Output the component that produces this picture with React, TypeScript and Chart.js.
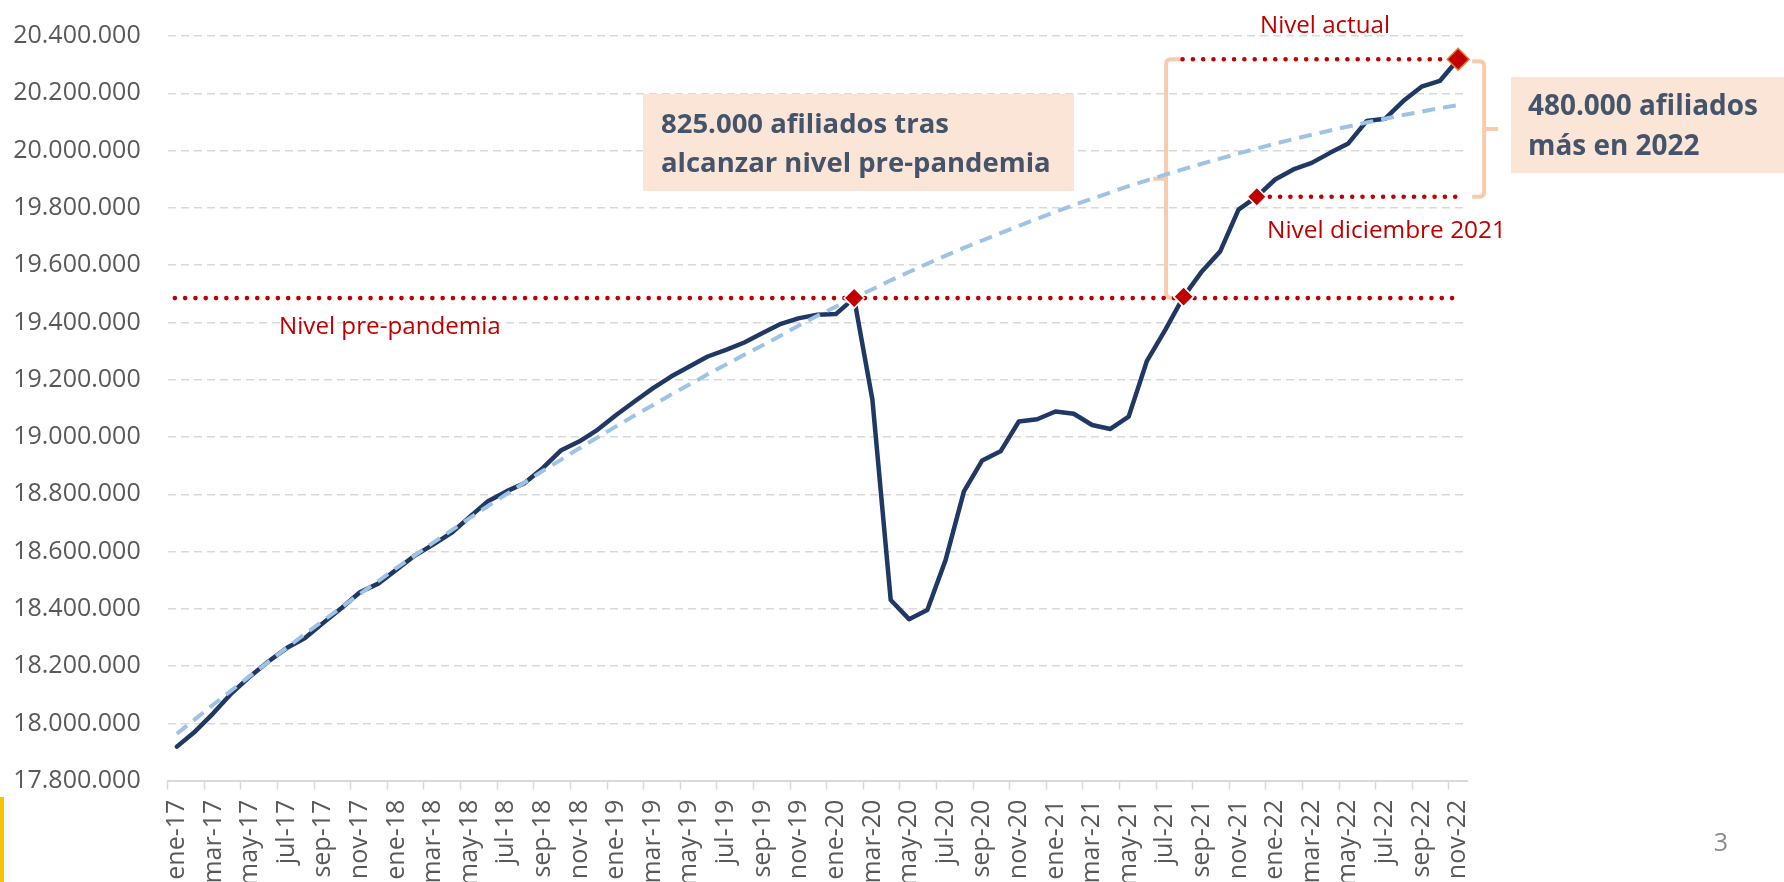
import React, { useEffect, useRef } from 'react';
import { Chart, registerables } from 'chart.js';

Chart.register(...registerables);

const categories = [
  'ene-17','feb-17','mar-17','abr-17','may-17','jun-17','jul-17','ago-17','sep-17','oct-17','nov-17','dic-17',
  'ene-18','feb-18','mar-18','abr-18','may-18','jun-18','jul-18','ago-18','sep-18','oct-18','nov-18','dic-18',
  'ene-19','feb-19','mar-19','abr-19','may-19','jun-19','jul-19','ago-19','sep-19','oct-19','nov-19','dic-19',
  'ene-20','feb-20','mar-20','abr-20','may-20','jun-20','jul-20','ago-20','sep-20','oct-20','nov-20','dic-20',
  'ene-21','feb-21','mar-21','abr-21','may-21','jun-21','jul-21','ago-21','sep-21','oct-21','nov-21','dic-21',
  'ene-22','feb-22','mar-22','abr-22','may-22','jun-22','jul-22','ago-22','sep-22','oct-22','nov-22',
];

const afiliados = [
  17919000, 17972000, 18036000, 18106000, 18164000, 18216000, 18263000, 18298000, 18351000, 18403000, 18458000, 18488000,
  18537000, 18586000, 18624000, 18665000, 18721000, 18776000, 18810000, 18839000, 18892000, 18954000, 18985000, 19026000,
  19077000, 19124000, 19170000, 19211000, 19246000, 19281000, 19304000, 19330000, 19363000, 19395000, 19415000, 19427000,
  19429000, 19485000, 19130000, 18431000, 18364000, 18396000, 18571000, 18810000, 18918000, 18950000, 19054000, 19062000,
  19089000, 19081000, 19042000, 19028000, 19071000, 19266000, 19374000, 19490000, 19578000, 19648000, 19794000, 19839000,
  19899000, 19934000, 19957000, 19992000, 20025000, 20103000, 20111000, 20173000, 20223000, 20243000, 20319000,
];

const tendencia = [
  17964000, 18015000, 18066000, 18116000, 18166000, 18215000, 18264000, 18312000, 18359000, 18406000, 18452000, 18497000,
  18543000, 18587000, 18631000, 18674000, 18717000, 18759000, 18800000, 18841000, 18882000, 18921000, 18961000, 18999000,
  19037000, 19075000, 19111000, 19148000, 19183000, 19219000, 19253000, 19287000, 19320000, 19354000, 19390000, 19423000,
  19455000, 19486000, 19516000, 19547000, 19576000, 19605000, 19633000, 19660000, 19686000, 19712000, 19737000, 19762000,
  19786000, 19810000, 19832000, 19854000, 19876000, 19896000, 19916000, 19935000, 19954000, 19972000, 19990000, 20007000,
  20024000, 20040000, 20055000, 20070000, 20084000, 20098000, 20111000, 20124000, 20136000, 20148000, 20159000,
];

const yMin = 17800000;
const yMax = 20400000;
const yStep = 200000;

const mesPrePandemia = 'feb-20';
const mesRecuperacion = 'ago-21';
const mesDiciembre = 'dic-21';
const mesActual = 'nov-22';
const hitos = [mesPrePandemia, mesRecuperacion, mesDiciembre, mesActual];

const textoCaja1 = ['825.000 afiliados tras', 'alcanzar nivel pre-pandemia'];
const textoCaja2 = ['480.000 afiliados', 'más en 2022'];
const etiquetaPre = 'Nivel pre-pandemia';
const etiquetaActual = 'Nivel actual';
const etiquetaDic = 'Nivel diciembre 2021';
const numeroPagina = '3';

const FONT = '"Open Sans", "Noto Sans", sans-serif';
const RED = '#C00000';
const PEACH = '#F8CBAD';
const BOXFILL = '#FBE5D6';
const BOXTEXT = '#44546A';

const fmt = (v: number) => String(Math.round(v)).replace(/\B(?=(\d{3})+(?!\d))/g, '.');

function fitSize(ctx: CanvasRenderingContext2D, text: string, weight: string, target: number) {
  const base = 28;
  ctx.font = `${weight} ${base}px ${FONT}`;
  const w = ctx.measureText(text).width;
  return (base * target) / w;
}

function dotted(ctx: CanvasRenderingContext2D, x1: number, x2: number, y: number) {
  ctx.save();
  ctx.strokeStyle = RED;
  ctx.lineWidth = 4.6;
  ctx.lineCap = 'round';
  ctx.setLineDash([0, 10.3]);
  ctx.beginPath();
  ctx.moveTo(x1, y);
  ctx.lineTo(x2, y);
  ctx.stroke();
  ctx.restore();
}

function brace(ctx: CanvasRenderingContext2D, x: number, yTop: number, yBot: number, hookDir: number, hook: number, nub: number) {
  const yMid = (yTop + yBot) / 2;
  const r = 5;
  ctx.save();
  ctx.strokeStyle = PEACH;
  ctx.lineWidth = 4;
  ctx.lineJoin = 'round';
  ctx.lineCap = 'butt';
  ctx.beginPath();
  ctx.moveTo(x + hookDir * hook, yTop);
  ctx.lineTo(x + hookDir * r, yTop);
  ctx.quadraticCurveTo(x, yTop, x, yTop + r);
  ctx.lineTo(x, yBot - r);
  ctx.quadraticCurveTo(x, yBot, x + hookDir * r, yBot);
  ctx.lineTo(x + hookDir * hook, yBot);
  ctx.moveTo(x, yMid);
  ctx.lineTo(x - hookDir * nub, yMid);
  ctx.stroke();
  ctx.restore();
}

const annotations = {
  id: 'annotations',
  beforeDatasetsDraw(chart: any) {
    const { ctx, scales } = chart;
    const x = scales.x;
    const y = scales.y;
    const iPre = categories.indexOf(mesPrePandemia);
    const iRec = categories.indexOf(mesRecuperacion);
    const iDic = categories.indexOf(mesDiciembre);
    const iAct = categories.indexOf(mesActual);
    const yPre = y.getPixelForValue(afiliados[iPre]);
    const yDic = y.getPixelForValue(afiliados[iDic]);
    const yAct = y.getPixelForValue(afiliados[iAct]);

    ctx.save();
    ctx.fillStyle = BOXFILL;
    ctx.fillRect(643, 94, 431, 97);
    ctx.fillRect(1511, 77, 273, 96);
    ctx.restore();

    brace(ctx, x.getPixelForValue(iRec) - 17.5, yAct, yPre, 1, 16, 13);
    brace(ctx, x.getPixelForValue(iAct) + 26, yAct + 2, yDic, -1, 12, 14);

    dotted(ctx, x.getPixelForValue(0) - 2, x.getPixelForValue(iAct) - 6, yPre);
    dotted(ctx, x.getPixelForValue(iRec) - 1, x.getPixelForValue(iAct) - 4, yAct);
    dotted(ctx, x.getPixelForValue(iDic) + 13, x.getPixelForValue(iAct), yDic);
  },
  afterDatasetsDraw(chart: any) {
    const { ctx } = chart;
    ctx.save();
    ctx.textBaseline = 'alphabetic';
    ctx.textAlign = 'left';

    ctx.fillStyle = BOXTEXT;
    let s = fitSize(ctx, textoCaja1[0], 'bold', 288);
    ctx.font = `bold ${s}px ${FONT}`;
    ctx.fillText(textoCaja1[0], 661, 133);
    ctx.fillText(textoCaja1[1], 661, 172);
    s = fitSize(ctx, textoCaja2[0], 'bold', 230);
    ctx.font = `bold ${s}px ${FONT}`;
    ctx.fillText(textoCaja2[0], 1528, 115);
    ctx.fillText(textoCaja2[1], 1528, 155);

    ctx.fillStyle = RED;
    s = fitSize(ctx, etiquetaPre, 'normal', 222);
    ctx.font = `normal ${s}px ${FONT}`;
    ctx.fillText(etiquetaPre, 279, 334);
    s = fitSize(ctx, etiquetaActual, 'normal', 130);
    ctx.font = `normal ${s}px ${FONT}`;
    ctx.fillText(etiquetaActual, 1260, 33);
    s = fitSize(ctx, etiquetaDic, 'normal', 239);
    ctx.font = `normal ${s}px ${FONT}`;
    ctx.fillText(etiquetaDic, 1267, 238);

    ctx.fillStyle = '#8C8C8C';
    ctx.font = `normal 25px ${FONT}`;
    ctx.textAlign = 'center';
    ctx.fillText(numeroPagina, 1721, 851);

    ctx.fillStyle = '#F7C500';
    ctx.fillRect(0, 797, 4, 85);
    ctx.restore();
  },
};

export default function App() {
  const ref = useRef<HTMLCanvasElement | null>(null);

  useEffect(() => {
    if (!ref.current) return;
    const markers = categories.map((c, i) => (hitos.includes(c) ? afiliados[i] : null));
    const markerRadius = categories.map((c) => (c === mesActual ? 11 : c === mesDiciembre ? 9.5 : 10));
    const markerBorder = categories.map((c) => (c === mesActual ? '#ED7D31' : '#FFFFFF'));

    const chart = new Chart(ref.current, {
      type: 'line',
      data: {
        labels: categories,
        datasets: [
          { label: 'hitos', data: markers, showLine: false, pointStyle: 'rectRot', pointRadius: markerRadius,
            pointBackgroundColor: RED, pointBorderColor: markerBorder, pointBorderWidth: 1.5, order: 0 },
          { label: 'tendencia', data: tendencia, borderColor: '#9DC3E6', borderWidth: 4, borderDash: [13, 8],
            pointRadius: 0, tension: 0, fill: false, order: 1 },
          { label: 'afiliados', data: afiliados, borderColor: '#203864', borderWidth: 4.5, borderJoinStyle: 'round',
            borderCapStyle: 'round', pointRadius: 0, tension: 0, fill: false, order: 2 },
        ] as any,
      },
      options: {
        responsive: false,
        maintainAspectRatio: false,
        animation: false,
        devicePixelRatio: 1,
        layout: { autoPadding: false, padding: { left: 0, top: 36, right: 316.7, bottom: 0 } },
        plugins: { legend: { display: false }, tooltip: { enabled: false }, title: { display: false } },
        scales: {
          x: {
            type: 'category',
            offset: true,
            grid: { offset: true, drawOnChartArea: false, drawTicks: true, tickLength: 9, tickWidth: 1.5,
              tickColor: (c: any) => (c.index % 2 === 0 ? '#D9D9D9' : 'rgba(0,0,0,0)') },
            border: { display: true, color: '#D9D9D9', width: 2 },
            ticks: { autoSkip: false, maxRotation: 90, minRotation: 90, padding: 10, color: '#595959',
              font: { family: FONT, size: 25 }, callback: (_v: any, i: number) => (i % 2 === 0 ? categories[i] : '') },
            afterFit: (s: any) => { s.height = 101.3; },
          },
          y: {
            min: yMin,
            max: yMax,
            ticks: { stepSize: yStep, padding: 27, color: '#595959', font: { family: FONT, size: 25 },
              callback: (v: any) => fmt(Number(v)) },
            grid: { drawTicks: false, lineWidth: 1.5,
              color: (c: any) => (c.tick && c.tick.value === yMin ? 'rgba(0,0,0,0)' : '#D9D9D9') },
            border: { display: false, dash: [8, 5] },
            afterFit: (s: any) => { s.width = 167.7; s.paddingTop = 0; },
          },
        },
      } as any,
      plugins: [annotations],
    });

    return () => { chart.destroy(); };
  }, []);

  return (
    <div style={{ position: 'fixed', left: 0, top: 0, width: 1784, height: 882, background: '#FFFFFF', overflow: 'hidden' }}>
      <canvas ref={ref} width={1784} height={882} style={{ width: 1784, height: 882, display: 'block' }} />
    </div>
  );
}
